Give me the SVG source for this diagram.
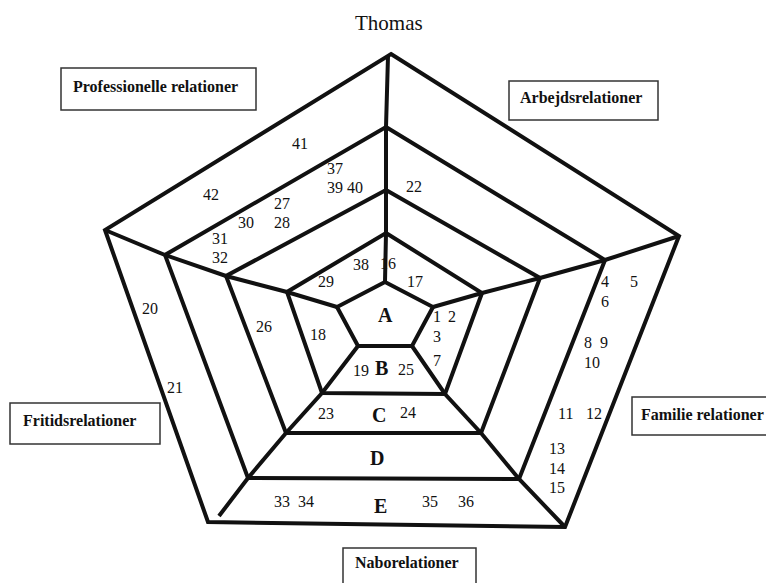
<svg xmlns="http://www.w3.org/2000/svg" width="766" height="583" viewBox="0 0 766 583">
<style>
.web{fill:none;stroke:#111;stroke-width:4;stroke-linejoin:miter;stroke-linecap:butt}
.box{fill:#fff;stroke:#333;stroke-width:1.5}
.lbl{font-family:"Liberation Serif","Times New Roman",serif;font-weight:bold;font-size:16px;fill:#111}
.num{font-family:"Liberation Serif","Times New Roman",serif;font-size:16px;fill:#111}
.ring{font-family:"Liberation Serif","Times New Roman",serif;font-weight:bold;font-size:20px;fill:#111}
.title{font-family:"Liberation Serif","Times New Roman",serif;font-size:21px;fill:#111}
</style>
<rect width="766" height="583" fill="#fff"/>
<text class="title" x="355" y="30">Thomas</text>
<g id="web" class="web">
<polygon points="391,54 679,236 565,527 208,522 105,230"/>
<polygon points="386,127 605,260 519,479 248,478 165,255"/>
<polygon points="386,190 540,278 481,433 286,433 226,276"/>
<polygon points="386,233 482,293 445,394 322,393 287,292"/>
<polygon points="385,282 433,307 412,346 358,346 337,307"/>
</g>
<g id="connectors" class="web">
<polyline points="388,56 386,127 386,190 386,233 385,282"/>
<polyline points="679,236 605,260 540,278 482,293 433,307"/>
<polyline points="105,230 165,255 226,276 287,292 337,307"/>
<polyline points="219,516 248,478 286,433 322,393 358,346"/>
<polyline points="565,527 519,479 481,433 445,394 412,346"/>
</g>
<g id="prof">
<rect class="box" x="61" y="68" width="195" height="42"/>
<text class="lbl" x="73" y="92">Professionelle relationer</text>
</g>
<g id="arbejd">
<rect class="box" x="509" y="81" width="149" height="39"/>
<text class="lbl" x="520" y="103">Arbejdsrelationer</text>
</g>
<g id="fritid">
<rect class="box" x="10" y="403" width="150" height="41"/>
<text class="lbl" x="23" y="426">Fritidsrelationer</text>
</g>
<g id="familie">
<rect class="box" x="632" y="397" width="140" height="38"/>
<text class="lbl" x="641" y="420">Familie relationer</text>
</g>
<g id="nabo">
<rect class="box" x="343" y="548" width="133" height="45"/>
<text class="lbl" x="355" y="568">Naborelationer</text>
</g>
<g id="rings">
<text class="ring" x="378" y="322">A</text>
<text class="ring" x="375" y="375">B</text>
<text class="ring" x="372" y="422">C</text>
<text class="ring" x="370" y="465">D</text>
<text class="ring" x="374" y="513">E</text>
</g>
<g id="numbers" class="num">
<text x="292" y="149">41</text>
<text x="327" y="174">37</text>
<text x="327" y="193">39</text>
<text x="347" y="193">40</text>
<text x="203" y="200">42</text>
<text x="274" y="209">27</text>
<text x="238" y="228">30</text>
<text x="274" y="228">28</text>
<text x="212" y="244">31</text>
<text x="212" y="263">32</text>
<text x="353" y="270">38</text>
<text x="318" y="287">29</text>
<text x="406" y="192">22</text>
<text x="380" y="269">16</text>
<text x="407" y="287">17</text>
<text x="601" y="287">4</text>
<text x="630" y="287">5</text>
<text x="601" y="307">6</text>
<text x="433" y="322">1</text>
<text x="448" y="322">2</text>
<text x="433" y="342">3</text>
<text x="433" y="366">7</text>
<text x="584" y="348">8</text>
<text x="600" y="348">9</text>
<text x="584" y="368">10</text>
<text x="558" y="419">11</text>
<text x="586" y="419">12</text>
<text x="549" y="454">13</text>
<text x="549" y="474">14</text>
<text x="549" y="493">15</text>
<text x="398" y="375">25</text>
<text x="400" y="418">24</text>
<text x="422" y="507">35</text>
<text x="458" y="507">36</text>
<text x="142" y="314">20</text>
<text x="256" y="332">26</text>
<text x="310" y="340">18</text>
<text x="167" y="393">21</text>
<text x="353" y="376">19</text>
<text x="318" y="419">23</text>
<text x="274" y="507">33</text>
<text x="298" y="507">34</text>
</g>
</svg>
